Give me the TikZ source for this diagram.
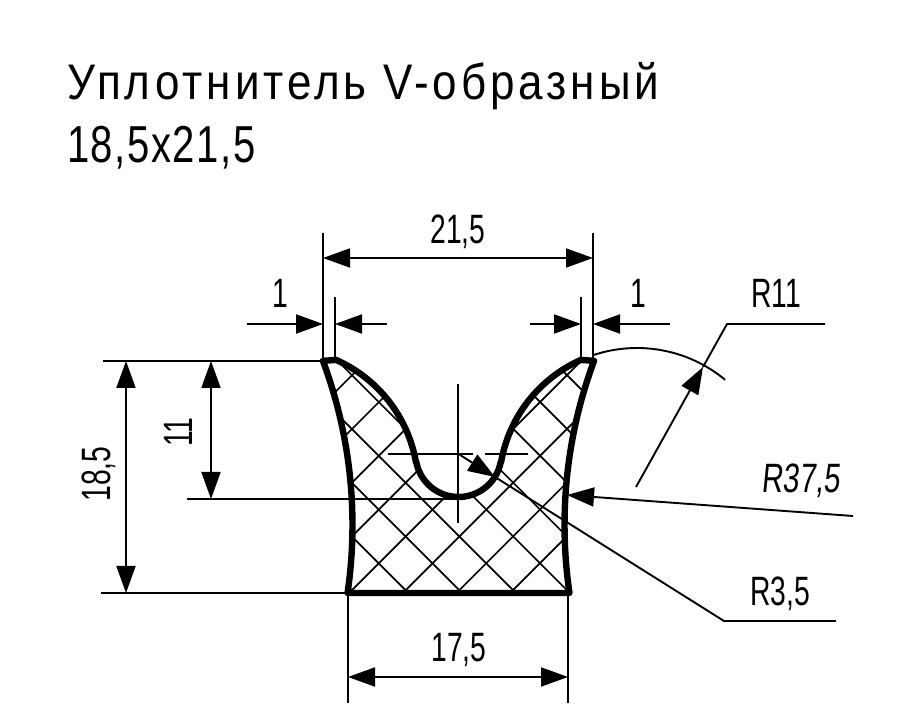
\documentclass[tikz,border=0pt]{standalone}
\usepackage{fontspec}
\usetikzlibrary{arrows.meta}
\newfontfamily\dimfont[FakeStretch=0.69]{Liberation Sans}
\newfontfamily\slfont[FakeStretch=0.72,FakeSlant=0.1]{Liberation Sans}
\newfontfamily\titlefont[FakeStretch=0.88,LetterSpace=8]{Liberation Sans}
\newfontfamily\subfont[FakeStretch=0.77,LetterSpace=3]{Liberation Sans}
\tikzset{
  thinline/.style={line width=1.9pt,black},
  outline/.style={line width=6.4pt,black,line join=round},
  hatchline/.style={line width=1.7pt,black},
  dimtip/.style={-{Triangle[length=27pt,width=19pt]}},
  dimboth/.style={{Triangle[length=27pt,width=19pt]}-{Triangle[length=27pt,width=19pt]}},
  dimlabel/.style={inner sep=0pt,anchor=base,font=\dimfont\fontsize{41}{41}\selectfont},
  titlelabel/.style={inner sep=0pt,anchor=base west}
}
\def\profilepath{
  ([shift={(20.4:471pt)}]OL) arc[start angle=20.4,end angle=-8.3,radius=471pt]
  -- ([shift={(188.3:471pt)}]OR) arc[start angle=188.3,end angle=159.6,radius=471pt]
  -- ([shift={(114:138pt)}]CR) arc[start angle=114,end angle=170,radius=138pt]
  -- ([shift={(-10:43pt)}]CS) arc[start angle=-10,end angle=-170,radius=43pt]
  -- ([shift={(10:138pt)}]CL) arc[start angle=10,end angle=66,radius=138pt]
  -- cycle}
\begin{document}
\begin{tikzpicture}[x=1pt,y=-1pt,yshift=709pt]
\path[use as bounding box,fill=white] (0,0) rectangle (900,709);
% centres of the profile arcs
\coordinate (OL) at (-118.5,525);
\coordinate (OR) at (1035.5,525);
\coordinate (CL) at (280,486);
\coordinate (CR) at (637,486);
\coordinate (CS) at (458.5,454);
% hatching
\begin{scope}
\clip \profilepath;
\foreach \k in {-5,...,5}{
  \draw[hatchline] (300,{300+23.3-53.8*\k}) -- (620,{620+23.3-53.8*\k});
}
\foreach \j in {-1,...,9}{
  \draw[hatchline] (300,{727.3+53.7*\j-300}) -- (620,{727.3+53.7*\j-620});
}
\end{scope}
% centre lines
\coordinate (VT) at (458,384);
\coordinate (VB) at (458,523);
\coordinate (HL) at (388,454);
\coordinate (HM1) at (473,454);
\coordinate (HM2) at (485,454);
\coordinate (HR) at (528,454);
\draw[thinline] (VT) -- (VB);
\draw[thinline] (HL) -- (HM1);
\draw[thinline] (HM2) -- (HR);
% extension lines
\coordinate (E1a) at (323,233); \coordinate (E1b) at (323,361);
\coordinate (E2a) at (593,233); \coordinate (E2b) at (593,361);
\coordinate (E3a) at (335,297); \coordinate (E3b) at (335,361);
\coordinate (E4a) at (581,297); \coordinate (E4b) at (581,361);
\coordinate (E5a) at (103,361); \coordinate (E5b) at (323,361);
\coordinate (E6a) at (101,593); \coordinate (E6b) at (349,593);
\coordinate (E7a) at (187,499); \coordinate (E7b) at (458,499);
\coordinate (E8a) at (348,593); \coordinate (E8b) at (348,703);
\coordinate (E9a) at (568,593); \coordinate (E9b) at (568,703);
\foreach \n in {1,...,9}{\draw[thinline] (E\n a) -- (E\n b);}
% dimension lines
\coordinate (D1a) at (323,258); \coordinate (D1b) at (593,258);
\draw[thinline,dimboth] (D1a) -- (D1b);
\coordinate (D2a) at (126,361); \coordinate (D2b) at (126,593);
\draw[thinline,dimboth] (D2a) -- (D2b);
\coordinate (D3a) at (211,361); \coordinate (D3b) at (211,499);
\draw[thinline,dimboth] (D3a) -- (D3b);
\coordinate (D4a) at (348,677); \coordinate (D4b) at (568,677);
\draw[thinline,dimboth] (D4a) -- (D4b);
\coordinate (W1) at (247,324); \coordinate (W1t) at (323,324);
\coordinate (W2) at (387,324); \coordinate (W2t) at (335,324);
\coordinate (W3) at (530,324); \coordinate (W3t) at (581,324);
\coordinate (W4) at (670,324); \coordinate (W4t) at (593,324);
\draw[thinline,dimtip] (W1) -- (W1t);
\draw[thinline,dimtip] (W2) -- (W2t);
\draw[thinline,dimtip] (W3) -- (W3t);
\draw[thinline,dimtip] (W4) -- (W4t);
% radius R11
\draw[thinline] ([shift={(108.8:138pt)}]CR) arc[start angle=108.8,end angle=50.3,radius=138pt];
\coordinate (R1s) at (636,487); \coordinate (R1t) at (703,367);
\coordinate (R1k) at (727,324); \coordinate (R1e) at (825,324);
\draw[thinline,dimtip] (R1s) -- (R1t);
\draw[thinline] (R1t) -- (R1k) -- (R1e);
% radius R37,5
\coordinate (R2s) at (853,516); \coordinate (R2t) at (567,495);
\draw[thinline,dimtip] (R2s) -- (R2t);
% radius R3,5
\coordinate (R3t) at (495,477);
\coordinate (R3k) at (724,621); \coordinate (R3e) at (836,621);
\draw[thinline,dimtip] (CS) -- (R3t);
\draw[thinline] (R3t) -- (R3k) -- (R3e);
% outline
\draw[outline] \profilepath;
% labels
\node[titlelabel] (title1) at (67,100) {\titlefont\fontsize{50}{50}\selectfont Уплотнитель V-образный};
\node[titlelabel] (title2) at (67,163) {\subfont\fontsize{52}{52}\selectfont 18,5x21,5};
\node[dimlabel] (l215) at (458,244) {21,5};
\node[dimlabel] (l1a) at (280,308) {1};
\node[dimlabel] (l1b) at (638,308) {1};
\node[dimlabel] (lr11) at (776,308) {R11};
\node[dimlabel,font=\slfont\fontsize{41}{41}\selectfont] (lr375) at (801,493) {R37,5};
\node[dimlabel] (lr35) at (780,606) {R3,5};
\node[dimlabel] (l175) at (459,662) {17,5};
\node[dimlabel,rotate=90] (l185) at (110,474) {18,5};
\node[dimlabel,rotate=90] (l11) at (192,432) {11};
\end{tikzpicture}
\end{document}
